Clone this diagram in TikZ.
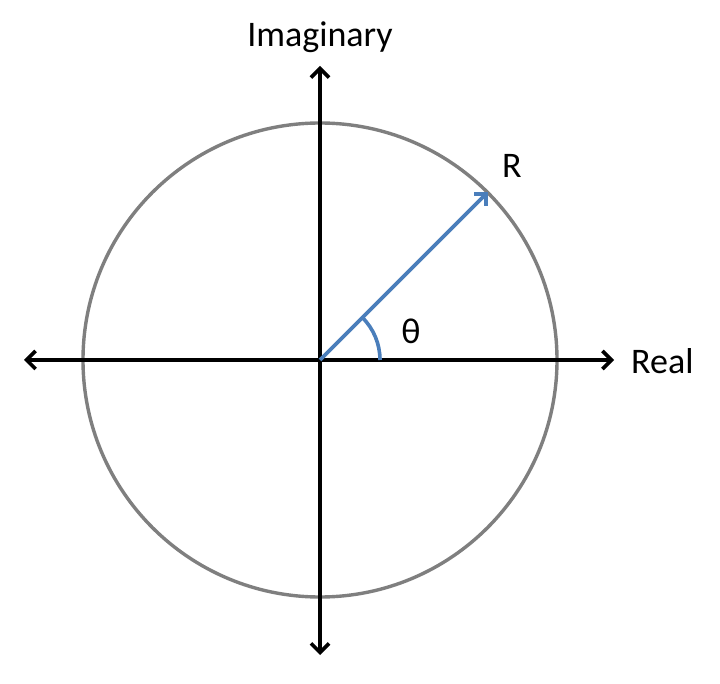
\documentclass[tikz,border=0pt]{standalone}
\usepackage{fontspec}
\setmainfont{Carlito}
\usetikzlibrary{arrows.meta}
\definecolor{circgray}{HTML}{7F7F7F}
\definecolor{vecblue}{HTML}{4A7EBB}
\begin{document}
\begin{tikzpicture}[x=1pt,y=-1pt,
  axis/.style={line width=3.6pt,black,{Straight Barb[length=9pt,width=18pt,line width=3.6pt]}-{Straight Barb[length=9pt,width=18pt,line width=3.6pt]}},
  lbl/.style={font=\fontsize{36}{42}\selectfont,inner sep=0pt}]
\useasboundingbox (0,0) rectangle (720,684);
\coordinate (O) at (320,360);
\coordinate (L) at (24,360);
\coordinate (Rt) at (614,360);
\coordinate (T) at (320,66);
\coordinate (B) at (320,655);
\coordinate (P) at (487.5,192.5);
\coordinate (A0) at (380,360);
\draw[circgray,line width=3.4pt] (O) circle[radius=237];
\draw[axis] (L) -- (Rt);
\draw[axis] (B) -- (T);
\draw[vecblue,line width=3.6pt,-{Straight Barb[length=8pt,width=16pt,line width=3.6pt]}] (O) -- (P);
\draw[vecblue,line width=3.6pt] (A0) arc[start angle=0,end angle=-45,radius=60];
\node[lbl] (im) at (320,37) {Imaginary};
\node[lbl,anchor=west] (re) at (631,361) {Real};
\node[lbl] (r) at (512,166) {R};
\node[lbl] (th) at (411,331) {θ};
\end{tikzpicture}
\end{document}
